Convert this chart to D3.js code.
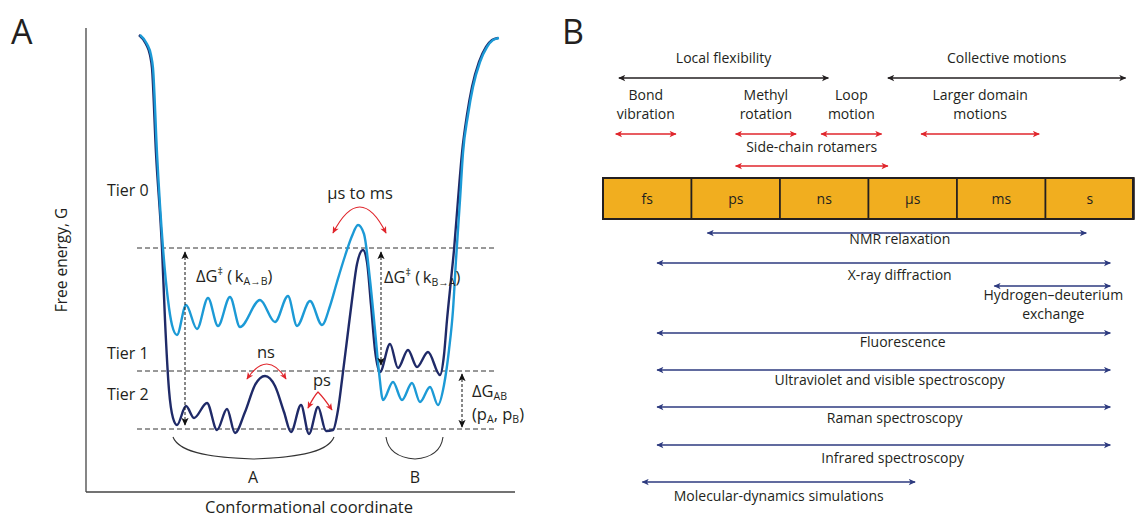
<!DOCTYPE html>
<html lang="en">
<head>
<meta charset="utf-8">
<title>Energy landscape and timescales of protein motions</title>
<script src="https://d3js.org/d3.v7.min.js"></script>
<style>
  body { margin: 0; background: #fff; }
  svg { display: block; font-family: "Open Sans", sans-serif; }
  text { fill: #231f20; }
  .dash { stroke: #333; stroke-width: 1; stroke-dasharray: 5,3; fill: none; }
</style>
</head>
<body>
<svg id="chart" width="1135" height="518"></svg>
<script>
// ---- panel A data: conformational coordinate vs free energy (arbitrary units) ----
var upperCoord  = [54,61,65,67,71,77,82,86,91,100,111,122,132,144,154,174,189,202,211,224,236,244,251,259,266,272,278,284,289,293,297,307,316,326,334,344,352,358,363,367,370,374,377,382,387,394,401,407,413];
var upperEnergy = [457,448,437,424,339,244,192,167,157,187,163,194,166,195,165,192,170,196,166,191,167,186,210,236,256,267,258,212,162,120,92,110,92,109,90,105,87,107,142,182,232,292,339,377,405,430,445,452,454];
var lowerCoord  = [53,60,64,66,70,76,79,83,87,91,100,108,121,131,141,149,159,169,179,189,198,205,215,223,232,240,247,252,256,261,266,271,277,281,285,289,294,304,312,322,331,342,354,358,361,365,368,372,376,381,386,393,400,406,412];
var lowerEnergy = [457,448,437,424,339,244,172,102,74,67,86,74,89,62,83,59,80,107,116,106,80,60,87,58,85,61,62,82,112,152,192,228,242,230,187,142,120,148,124,142,125,140,117,137,172,212,242,292,339,377,405,430,445,452,454];
var tierNames  = ["Tier 0", "Tier 1", "Tier 2"];
var levelLines = [244, 121, 63];

// ---- panel B data: timescales in seconds ----
var timeUnits = ["fs", "ps", "ns", "\u03bcs", "ms", "s"];
var unitStart = [1e-15, 1e-12, 1e-9, 1e-6, 1e-3, 1];

var motionNames = ["Local flexibility", "Collective motions"];
var motionFrom  = [3.2e-15, 4.2e-6];
var motionTo    = [4.7e-8, 560];

var processNames = [["Bond", "vibration"], ["Methyl", "rotation"], ["Loop", "motion"], ["Larger domain", "motions"], ["Side-chain rotamers"]];
var processFrom  = [2.5e-15, 2.9e-11, 2.3e-8, 5.6e-5, 2.9e-11];
var processTo    = [3.2e-13, 3.8e-9, 3.0e-6, 0.66, 4.9e-6];

var techNames = [["NMR relaxation"], ["X-ray diffraction"], ["Hydrogen\u2013deuterium", "exchange"], ["Fluorescence"],
                 ["Ultraviolet and visible spectroscopy"], ["Raman spectroscopy"], ["Infrared spectroscopy"], ["Molecular-dynamics simulations"]];
var techFrom = [3.2e-12, 6.3e-14, 0.017, 6.3e-14, 6.3e-14, 6.3e-14, 6.3e-14, 2.0e-14];
var techTo   = [26, 170, 170, 170, 170, 170, 170, 4.1e-5];

var svg = d3.select("#chart");
var defs = svg.append("defs");

function marker(id, color, w, h) {
  defs.append("marker")
      .attr("id", id)
      .attr("viewBox", "0 -5 10 10")
      .attr("refX", 9).attr("refY", 0)
      .attr("markerUnits", "userSpaceOnUse")
      .attr("markerWidth", w).attr("markerHeight", h)
      .attr("orient", "auto-start-reverse")
    .append("path")
      .attr("d", "M0,-4.5L10,0L0,4.5L2.5,0Z")
      .attr("fill", color);
}
marker("hk", "#231f20", 9, 7);
marker("hr", "#e0262c", 9, 7);
marker("hb", "#2d3a7f", 9, 7);
marker("hd", "#111", 8, 8);

// ================= panel A =================
var xA = d3.scaleLinear().domain([0, 430]).range([86, 516]);
var yA = d3.scaleLinear().domain([0, 462]).range([492, 30]);

var a = svg.append("g");

a.append("text").attr("x", 11).attr("y", 44).attr("font-size", 34).text("A");

a.append("line").attr("x1", xA(0)).attr("x2", xA(0)).attr("y1", yA(464)).attr("y2", yA(0))
  .attr("stroke", "#444").attr("stroke-width", 1.3);
a.append("line").attr("x1", xA(0)).attr("x2", xA(429)).attr("y1", yA(0)).attr("y2", yA(0))
  .attr("stroke", "#444").attr("stroke-width", 1.3);

a.append("text").attr("transform", "translate(67," + yA(232) + ") rotate(-90)")
  .attr("text-anchor", "middle").attr("font-size", 15.5).text("Free energy, G");
a.append("text").attr("x", xA(223)).attr("y", 513)
  .attr("text-anchor", "middle").attr("font-size", 16.5).text("Conformational coordinate");

a.selectAll(".dash").data(levelLines).enter().append("line")
  .attr("class", "dash")
  .attr("x1", xA(51)).attr("x2", xA(409))
  .attr("y1", function(d) { return yA(d); }).attr("y2", function(d) { return yA(d); });

var tierY = [302, 139, 98];
a.selectAll(".tier").data(tierNames).enter().append("text")
  .attr("class", "tier")
  .attr("x", 107).attr("y", function(d, i) { return yA(tierY[i]); })
  .attr("dy", "0.35em").attr("font-size", 16)
  .text(function(d) { return d.replace(" ", "\u00a0"); });

var line = d3.line()
    .x(function(d) { return xA(d[0]); })
    .y(function(d) { return yA(d[1]); })
    .curve(d3.curveMonotoneX);

a.append("path").datum(d3.zip(lowerCoord, lowerEnergy))
  .attr("d", line).attr("fill", "none").attr("stroke", "#1f2a68").attr("stroke-width", 2.4);
a.append("path").datum(d3.zip(upperCoord, upperEnergy))
  .attr("d", line).attr("fill", "none").attr("stroke", "#1c9ad6").attr("stroke-width", 2.4);

// dashed double arrows (barrier heights, population difference)
var dashArrows = [[99, 240, 67], [295, 240, 127], [376, 118, 65]];
a.selectAll(".darr").data(dashArrows).enter().append("line")
  .attr("x1", function(d) { return xA(d[0]); }).attr("x2", function(d) { return xA(d[0]); })
  .attr("y1", function(d) { return yA(d[1]); }).attr("y2", function(d) { return yA(d[2]); })
  .attr("stroke", "#111").attr("stroke-width", 1).attr("stroke-dasharray", "3,2")
  .attr("marker-start", "url(#hd)").attr("marker-end", "url(#hd)");

function rich(g, x, y, parts, size) {
  var t = g.append("text").attr("x", x).attr("y", y).attr("font-size", size);
  var shift = 0;
  parts.forEach(function(p) {
    var target = p[1] === "sup" ? -7 : p[1] === "sub" ? 3 : 0;
    t.append("tspan").attr("dy", target - shift)
      .attr("font-size", p[1] ? size * 0.64 : size).text(p[0]);
    shift = target;
  });
  return t;
}
rich(a, 196, 282, [["\u0394G"], ["\u2021", "sup"], ["\u00a0(\u2009k"], ["A\u2192B", "sub"], [")"]], 16.5);
rich(a, 384, 283, [["\u0394G"], ["\u2021", "sup"], ["\u00a0(\u2009k"], ["B\u2192A", "sub"], [")"]], 16.5);
rich(a, 472, 397, [["\u0394G"], ["AB", "sub"]], 16.5);
rich(a, 472, 420, [["(p"], ["A", "sub"], [", p"], ["B", "sub"], [")"]], 16.5);

// red curved double arrows for the tier timescales
function arc(p0, c, p1) {
  return "M" + xA(p0[0]) + "," + yA(p0[1]) + "Q" + xA(c[0]) + "," + yA(c[1]) + " " + xA(p1[0]) + "," + yA(p1[1]);
}
var redArcs = [
  arc([247, 259], [274, 311], [300, 259]),
  arc([161, 113], [181, 143], [200, 113]),
  "M" + xA(222) + "," + yA(84) + "Q" + xA(228) + "," + yA(96) + " " + xA(232) + "," + yA(100) +
  "Q" + xA(238) + "," + yA(94) + " " + xA(246) + "," + yA(82)
];
a.selectAll(".rarc").data(redArcs).enter().append("path")
  .attr("d", function(d) { return d; })
  .attr("fill", "none").attr("stroke", "#e0262c").attr("stroke-width", 1.2)
  .attr("marker-start", "url(#hr)").attr("marker-end", "url(#hr)");

a.append("text").attr("x", xA(274)).attr("y", yA(299)).attr("dy", "0.35em")
  .attr("text-anchor", "middle").attr("font-size", 16.5).text("\u03bcs to ms");
a.append("text").attr("x", xA(180)).attr("y", yA(140)).attr("dy", "0.35em")
  .attr("text-anchor", "middle").attr("font-size", 16.5).text("ns");
a.append("text").attr("x", xA(236)).attr("y", yA(112)).attr("dy", "0.35em")
  .attr("text-anchor", "middle").attr("font-size", 16.5).text("ps");

// braces under the two states
var braces = [[87, 248, 167, 22], [300, 357, 329, 22]];
a.selectAll(".brace").data(braces).enter().append("path")
  .attr("d", function(d) {
    var x0 = xA(d[0]), x1 = xA(d[1]), xm = xA(d[2]), y0 = yA(55), yb = y0 + d[3];
    return "M" + x0 + "," + y0 +
      "C" + (x0 + (xm - x0) * 0.08) + "," + (yb - 5) + " " + (xm - (xm - x0) * 0.45) + "," + (yb - 1) + " " + xm + "," + yb +
      "C" + (xm + (x1 - xm) * 0.45) + "," + (yb - 1) + " " + (x1 - (x1 - xm) * 0.08) + "," + (yb - 5) + " " + x1 + "," + y0;
  })
  .attr("fill", "none").attr("stroke", "#333").attr("stroke-width", 1.1);
a.selectAll(".blab").data(["A", "B"]).enter().append("text")
  .attr("x", function(d, i) { return xA(braces[i][2]); }).attr("y", 483)
  .attr("text-anchor", "middle").attr("font-size", 16).text(function(d) { return d; });

// ================= panel B =================
var xB = d3.scaleLog().domain([1e-15, 1e3]).range([603, 1134]);
var b = svg.append("g");

b.append("text").attr("x", 562).attr("y", 44).attr("font-size", 34).text("B");

b.selectAll(".cell").data(unitStart).enter().append("rect")
  .attr("x", function(d) { return xB(d); })
  .attr("width", function(d) { return xB(d * 1000) - xB(d); })
  .attr("y", 178).attr("height", 41)
  .attr("fill", "#f1ae1f").attr("stroke", "#231f20").attr("stroke-width", 1.6);
b.append("rect").attr("x", xB(1e-15)).attr("y", 178)
  .attr("width", xB(1e3) - xB(1e-15) - 1).attr("height", 41)
  .attr("fill", "none").attr("stroke", "#231f20").attr("stroke-width", 2);
b.selectAll(".unit").data(timeUnits).enter().append("text")
  .attr("x", function(d, i) { return (xB(unitStart[i]) + xB(unitStart[i] * 1000)) / 2; })
  .attr("y", 199).attr("dy", "0.35em").attr("text-anchor", "middle").attr("font-size", 14)
  .text(function(d) { return d; });

function arrowRow(g, names, from, to, ys, labelYs, color, mk, nudge) {
  names.forEach(function(lines, i) {
    var x0 = xB(from[i]), x1 = xB(to[i]);
    var cx = (x0 + x1) / 2 + (nudge ? nudge[i] : 0);
    g.append("line").attr("x1", x0 + 1).attr("x2", x1 - 1).attr("y1", ys[i]).attr("y2", ys[i])
      .attr("stroke", color).attr("stroke-width", 1.3)
      .attr("marker-start", "url(#" + mk + ")").attr("marker-end", "url(#" + mk + ")");
    var t = g.append("text").attr("y", labelYs[i])
      .attr("text-anchor", "middle").attr("font-size", 14).attr("dy", "0.35em");
    [].concat(lines).forEach(function(s, j) {
      t.append("tspan").attr("x", cx).attr("dy", j === 0 ? 0 : 19).text(s);
    });
  });
}

arrowRow(b, motionNames, motionFrom, motionTo, [78, 78], [63, 63], "#231f20", "hk");
arrowRow(b, processNames, processFrom, processTo, [134, 134, 134, 134, 166], [100, 100, 100, 100, 152], "#e0262c", "hr");
arrowRow(b, techNames, techFrom, techTo,
  [233, 263, 286, 333, 370, 407, 445, 482],
  [244, 280, 300, 347, 385, 423, 463, 501],
  "#2d3a7f", "hb", [3, 16, 1, 19, 6, 11, 9, 0]);
</script>
</body>
</html>
